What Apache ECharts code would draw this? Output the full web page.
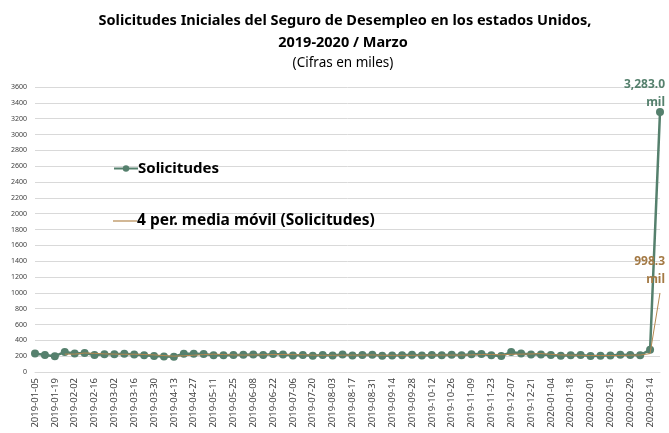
<!DOCTYPE html>
<html><head><meta charset="utf-8">
<script src="https://cdn.jsdelivr.net/npm/echarts@6/dist/echarts.min.js"></script>
<style>html,body{margin:0;padding:0;background:#fff}#c{width:669px;height:433px}</style>
</head><body><div id="c"></div>
<script>
const categories = [
"2019-01-05","2019-01-12","2019-01-19","2019-01-26","2019-02-02","2019-02-09","2019-02-16","2019-02-23",
"2019-03-02","2019-03-09","2019-03-16","2019-03-23","2019-03-30","2019-04-06","2019-04-13","2019-04-20",
"2019-04-27","2019-05-04","2019-05-11","2019-05-18","2019-05-25","2019-06-01","2019-06-08","2019-06-15",
"2019-06-22","2019-06-29","2019-07-06","2019-07-13","2019-07-20","2019-07-27","2019-08-03","2019-08-10",
"2019-08-17","2019-08-24","2019-08-31","2019-09-07","2019-09-14","2019-09-21","2019-09-28","2019-10-05",
"2019-10-12","2019-10-19","2019-10-26","2019-11-02","2019-11-09","2019-11-16","2019-11-23","2019-11-30",
"2019-12-07","2019-12-14","2019-12-21","2019-12-28","2020-01-04","2020-01-11","2020-01-18","2020-01-25",
"2020-02-01","2020-02-08","2020-02-15","2020-02-22","2020-02-29","2020-03-07","2020-03-14","2020-03-21"];
const solicitudes = [
233,216,200,253,234,239,216,225,
223,229,221,211,202,196,192,230,
230,228,212,211,215,218,222,216,
227,221,209,216,206,215,209,220,
209,215,217,204,208,213,219,210,
214,212,218,211,225,227,213,203,
252,234,222,222,214,204,211,216,
202,205,210,219,216,212,282,3283];
const mediaMovil = [
null,null,null,225.5,225.8,240.0,235.5,228.5,
225.8,223.3,224.5,221.0,215.8,207.5,200.3,205.0,
212.0,220.0,225.0,220.3,216.5,214.0,216.5,217.8,
220.8,221.5,218.3,218.3,213.0,211.5,211.5,212.5,
213.3,213.3,215.3,211.3,211.0,210.5,211.0,212.5,
214.0,213.8,213.5,213.8,216.5,220.3,221.5,217.0,
223.8,225.5,227.8,232.5,223.0,215.5,212.8,211.3,
208.3,208.5,208.3,209.0,212.5,214.3,232.3,998.3];
const yTicks = {min:0, max:3600, interval:200};

const green = '#55806D', brown = '#B4884F';
const fmt = v => v.toLocaleString('en-US',{minimumFractionDigits:1, maximumFractionDigits:1});
const chart = echarts.init(document.getElementById('c'));
chart.setOption({
  animation:false,
  textStyle:{fontFamily:'Noto Sans'},
  title:[
    {text:'Solicitudes Iniciales del Seguro de Desempleo en los estados Unidos,', left:340, textAlign:'center', top:8,
     textStyle:{fontSize:14.5, fontWeight:'bold', color:'#000', fontFamily:'Noto Sans'}},
    {text:'2019-2020 / Marzo', left:338, textAlign:'center', top:30,
     textStyle:{fontSize:14.5, fontWeight:'bold', color:'#000', fontFamily:'Noto Sans'}},
    {text:'(Cifras en miles)', left:338, textAlign:'center', top:51,
     textStyle:{fontSize:13.5, fontWeight:'normal', color:'#000', fontFamily:'Noto Sans'}}
  ],
  legend:[
    {left:108, top:156, itemWidth:24, itemHeight:8, data:['Solicitudes'],
     textStyle:{fontSize:15, fontWeight:'bold', color:'#000', padding:[0,0,0,-5]}},
    {left:108, top:208, itemWidth:24, itemHeight:1.2, icon:'rect', data:['4 per. media móvil (Solicitudes)'],
     textStyle:{fontSize:15.5, fontWeight:'bold', color:'#000', padding:[0,0,0,-5]}}
  ],
  grid:{left:35, right:9, top:87, bottom:61},
  xAxis:{
    type:'category', data:categories, boundaryGap:false,
    axisLine:{lineStyle:{color:'#d9d9d9'}}, axisTick:{show:false},
    axisLabel:{interval:1, rotate:90, fontSize:9.5, color:'#404040', margin:6}
  },
  yAxis:{
    type:'value', min:yTicks.min, max:yTicks.max, interval:yTicks.interval,
    axisLine:{show:false}, axisTick:{show:false},
    splitLine:{lineStyle:{color:'#d9d9d9'}},
    axisLabel:{fontSize:7, color:'#404040', margin:8, formatter:v=>String(v)}
  },
  series:[
    {name:'Solicitudes', type:'line', data:solicitudes, color:green,
     symbol:'circle', symbolSize:8, showAllSymbol:true, lineStyle:{width:2.5, color:green}, itemStyle:{color:green},
     endLabel:{show:true, formatter:p=>fmt(p.value)+'\nmil', align:'right', verticalAlign:'bottom',
       offset:[-3,-1], fontSize:12, fontWeight:'bold', color:green, lineHeight:18}, z:2},
    {name:'4 per. media móvil (Solicitudes)', type:'line', data:mediaMovil, color:brown,
     symbol:'none', showSymbol:false, lineStyle:{width:1, color:brown}, itemStyle:{color:brown},
     endLabel:{show:true, formatter:p=>fmt(p.value)+'\nmil', align:'right', verticalAlign:'bottom',
       offset:[-3,-4], fontSize:12, fontWeight:'bold', color:'#A47A45', lineHeight:18}, z:3}
  ]
});
</script></body></html>
